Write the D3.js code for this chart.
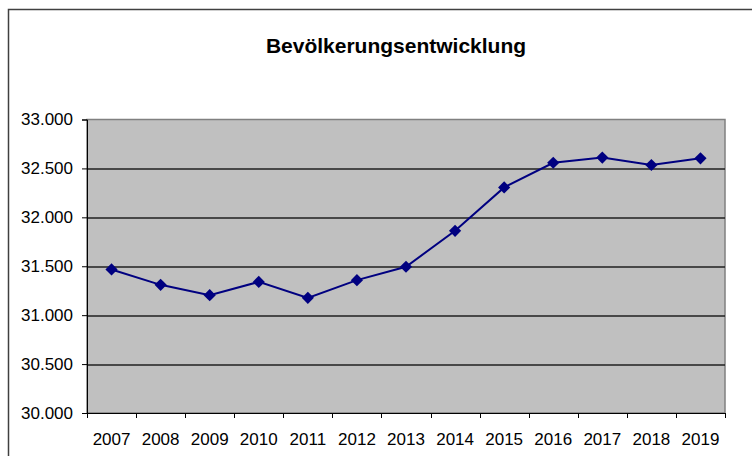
<!DOCTYPE html>
<meta charset="utf-8">
<script src="https://d3js.org/d3.v7.min.js"></script>
<style>
  body { margin: 0; background: #fff; }
  text { font-family: "Liberation Sans", Arial, sans-serif; }
</style>
<div id="my_dataviz"></div>
<script>

// data
var years = ["2007", "2008", "2009", "2010", "2011", "2012", "2013",
             "2014", "2015", "2016", "2017", "2018", "2019"];
var population = [31467, 31310, 31204, 31340, 31177, 31358, 31495,
                  31862, 32306, 32558, 32611, 32535, 32603];
var yTicks = [30000, 30500, 31000, 31500, 32000, 32500, 33000];

var W = 752, H = 456;
var margin = {top: 119.5, right: 27, bottom: 43, left: 87},
    width = W - margin.left - margin.right,
    height = H - margin.top - margin.bottom;

var svg = d3.select("#my_dataviz")
  .append("svg")
    .attr("width", W)
    .attr("height", H);

// outer frame (only left and top edges fall in the picture)
svg.append("rect")
  .attr("x", 8.5).attr("y", 9.5)
  .attr("width", 800).attr("height", 500)
  .style("fill", "none")
  .style("stroke", "#404040")
  .style("stroke-width", 1.5);

svg.append("text")
  .attr("x", 396)
  .attr("y", 53)
  .attr("text-anchor", "middle")
  .style("font-size", "21px")
  .style("font-weight", "bold")
  .text("Bevölkerungsentwicklung");

var g = svg.append("g")
  .attr("transform", "translate(" + margin.left + "," + margin.top + ")");

var x = d3.scaleBand()
  .domain(years)
  .range([0, width]);

var y = d3.scaleLinear()
  .domain([30000, 33000])
  .range([height, 0]);

// plot area
g.append("rect")
  .attr("width", width)
  .attr("height", height)
  .style("fill", "#c0c0c0")
  .style("stroke", "#808080")
  .style("stroke-width", 1.5);

// gridlines
g.selectAll("grid")
  .data(yTicks.slice(1, -1))
  .enter()
  .append("line")
    .attr("x1", 0).attr("x2", width)
    .attr("y1", function(d) { return Math.round(y(d)) + 0.5; })
    .attr("y2", function(d) { return Math.round(y(d)) + 0.5; })
    .style("stroke", "#202020")
    .style("stroke-width", 1.3);

var fmt = function(d) { return d3.format(",")(d).replace(",", "."); };

// Y axis
var yAxis = g.append("g")
  .call(d3.axisLeft(y).tickValues(yTicks).tickSize(5).tickPadding(9).tickFormat(fmt));
yAxis.selectAll("text").style("font-size", "17px").style("fill", "#000");
yAxis.selectAll("line, path").style("stroke", "#000");

// X axis: ticks at category boundaries
var xAxis = g.append("g")
  .attr("transform", "translate(0," + height + ")")
  .call(d3.axisBottom(x).tickSize(0).tickPadding(20));
xAxis.selectAll("text").style("font-size", "17px").style("fill", "#000");
xAxis.select("path").style("stroke", "#000");

xAxis.selectAll("boundary")
  .data(years.concat(["end"]))
  .enter()
  .append("line")
    .attr("x1", function(d, i) { return Math.round(i * x.step()) + 0.5; })
    .attr("x2", function(d, i) { return Math.round(i * x.step()) + 0.5; })
    .attr("y1", 0).attr("y2", 5)
    .style("stroke", "#000");

// line
var cx = function(d, i) { return x(years[i]) + x.bandwidth() / 2; };

g.append("path")
  .datum(population)
  .attr("d", d3.line().x(cx).y(function(d) { return y(d); }))
  .style("fill", "none")
  .style("stroke", "#000080")
  .style("stroke-width", 2);

g.selectAll("dot")
  .data(population)
  .enter()
  .append("path")
    .attr("d", d3.symbol().type(d3.symbolDiamond2).size(95))
    .attr("transform", function(d, i) { return "translate(" + cx(d, i) + "," + y(d) + ")"; })
    .style("fill", "#000080");

</script>
